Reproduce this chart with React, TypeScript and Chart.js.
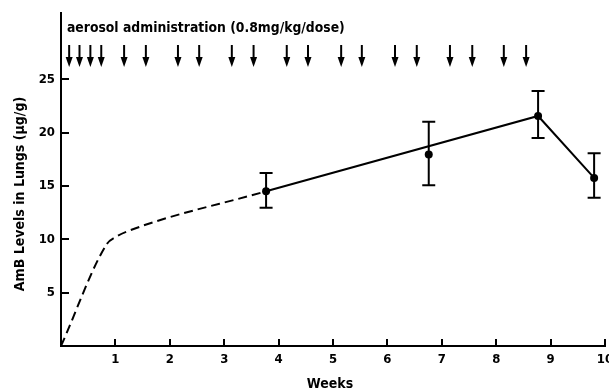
import React, { useEffect, useRef } from "react";
import { Chart, registerables } from "chart.js";

Chart.register(...registerables);

// Measured data (weeks vs AmB lung levels, µg/g)
const meanWeeks = [3.77, 6.76, 8.77, 9.8];
const meanLevels = [14.5, 17.95, 21.55, 15.75];
const errUpper = [16.2, 21.0, 23.9, 18.05];
const errLower = [12.95, 15.05, 19.5, 13.9];

// Dashed (extrapolated) rising curve
const dashedWeeks = [0, 0.85, 1.0, 1.2, 3.77];
const dashedLevels = [0, 9.6, 10.2, 10.7, 14.5];

// Solid connecting line
const solidWeeks = [3.77, 8.77, 9.8];
const solidLevels = [14.5, 21.55, 15.75];

// Aerosol dose times (weeks)
const doseWeeks = [
  0.15, 0.34, 0.54, 0.74, 1.16, 1.56, 2.15, 2.54, 3.14, 3.54, 4.15, 4.54,
  5.15, 5.53, 6.14, 6.54, 7.15, 7.56, 8.14, 8.55,
];

const xTickValues = [1, 2, 3, 4, 5, 6, 7, 8, 9, 10];
const yTickValues = [5, 10, 15, 20, 25];

const titleText = "aerosol administration (0.8mg/kg/dose)";
const xAxisTitle = "Weeks";
const yAxisTitle = "AmB Levels in Lungs (\u00b5g/g)";

const FONT = "'Liberation Sans Narrow', 'DejaVu Sans Condensed', 'Liberation Sans', sans-serif";

const decorPlugin = {
  id: "decor",
  afterDatasetsDraw(chart: any) {
    const ctx = chart.ctx as CanvasRenderingContext2D;
    const xs = chart.scales.x;
    const ys = chart.scales.y;
    const area = chart.chartArea;
    ctx.save();
    ctx.strokeStyle = "#000";
    ctx.fillStyle = "#000";
    ctx.lineWidth = 2;
    // inward ticks
    yTickValues.forEach((v) => {
      const py = Math.round(ys.getPixelForValue(v));
      ctx.beginPath();
      ctx.moveTo(area.left, py);
      ctx.lineTo(area.left + 8, py);
      ctx.stroke();
    });
    xTickValues.forEach((v) => {
      const px = Math.round(xs.getPixelForValue(v));
      ctx.beginPath();
      ctx.moveTo(px, area.bottom);
      ctx.lineTo(px, area.bottom - 7);
      ctx.stroke();
    });
    // error bars
    meanWeeks.forEach((w, i) => {
      const px = xs.getPixelForValue(w);
      const pt = ys.getPixelForValue(errUpper[i]);
      const pb = ys.getPixelForValue(errLower[i]);
      ctx.beginPath();
      ctx.moveTo(px, pt);
      ctx.lineTo(px, pb);
      ctx.moveTo(px - 6.5, pt);
      ctx.lineTo(px + 6.5, pt);
      ctx.moveTo(px - 6.5, pb);
      ctx.lineTo(px + 6.5, pb);
      ctx.stroke();
    });
    // dose arrows
    doseWeeks.forEach((w) => {
      const px = xs.getPixelForValue(w);
      ctx.beginPath();
      ctx.moveTo(px, 45);
      ctx.lineTo(px, 60);
      ctx.stroke();
      ctx.beginPath();
      ctx.moveTo(px - 3.5, 57);
      ctx.lineTo(px + 3.5, 57);
      ctx.lineTo(px, 67);
      ctx.closePath();
      ctx.fill();
    });
    // texts
    ctx.font = `bold 13.8px ${FONT}`;
    ctx.textAlign = "left";
    ctx.textBaseline = "alphabetic";
    ctx.fillText(titleText, 67, 32);

    ctx.font = `bold 14px ${FONT}`;
    ctx.textAlign = "center";
    ctx.textBaseline = "middle";
    ctx.fillText(xAxisTitle, 330, 384);

    ctx.translate(20, 194);
    ctx.rotate(-Math.PI / 2);
    ctx.fillText(yAxisTitle, 0, 0);
    ctx.restore();
  },
};

export default function App() {
  const ref = useRef<HTMLCanvasElement | null>(null);
  useEffect(() => {
    document.body.style.margin = "0";
    const canvas = ref.current;
    if (!canvas) return;
    const chart = new Chart(canvas, {
      type: "scatter",
      data: {
        datasets: [
          {
            data: dashedWeeks.map((x, i) => ({ x, y: dashedLevels[i] })),
            showLine: true,
            borderColor: "#000",
            borderWidth: 2,
            borderDash: [9, 5],
            pointRadius: 0,
            cubicInterpolationMode: "monotone",
          },
          {
            data: solidWeeks.map((x, i) => ({ x, y: solidLevels[i] })),
            showLine: true,
            borderColor: "#000",
            borderWidth: 2,
            pointRadius: 0,
          },
          {
            data: meanWeeks.map((x, i) => ({ x, y: meanLevels[i] })),
            showLine: false,
            pointRadius: 4,
            pointBackgroundColor: "#000",
            pointBorderColor: "#000",
            pointBorderWidth: 0,
          },
        ],
      },
      options: {
        responsive: false,
        animation: false,
        layout: { padding: { left: 0, top: 13, right: 4, bottom: 0 } },
        plugins: {
          legend: { display: false },
          tooltip: { enabled: false },
          title: { display: false },
        },
        scales: {
          x: {
            type: "linear",
            min: 0,
            max: 10,
            grid: { display: false, drawTicks: false },
            border: { display: true, color: "#000", width: 2 },
            ticks: {
              stepSize: 1,
              padding: 6,
              color: "#000",
              font: { family: FONT, size: 13, weight: "bold" },
              maxRotation: 0,
              autoSkip: false,
              callback: (v: any) => (xTickValues.includes(Number(v)) ? String(v) : ""),
            },
            afterFit: (s: any) => {
              s.height = 45;
              s.paddingLeft = 0;
              s.paddingRight = 0;
            },
          },
          y: {
            type: "linear",
            min: 0,
            max: 31.2,
            grid: { display: false, drawTicks: false },
            border: { display: true, color: "#000", width: 2 },
            ticks: {
              stepSize: 5,
              padding: 6,
              color: "#000",
              font: { family: FONT, size: 13, weight: "bold" },
              autoSkip: false,
              callback: (v: any) => (yTickValues.includes(Number(v)) ? String(v) : ""),
            },
            afterFit: (s: any) => {
              s.width = 61;
              s.paddingTop = 0;
              s.paddingBottom = 0;
            },
          },
        },
      },
      plugins: [decorPlugin],
    });
    return () => chart.destroy();
  }, []);
  return (
    <div style={{ position: "fixed", left: 0, top: 0, width: 609, height: 391, background: "#fff" }}>
      <canvas ref={ref} width={609} height={391} style={{ display: "block" }} />
    </div>
  );
}
